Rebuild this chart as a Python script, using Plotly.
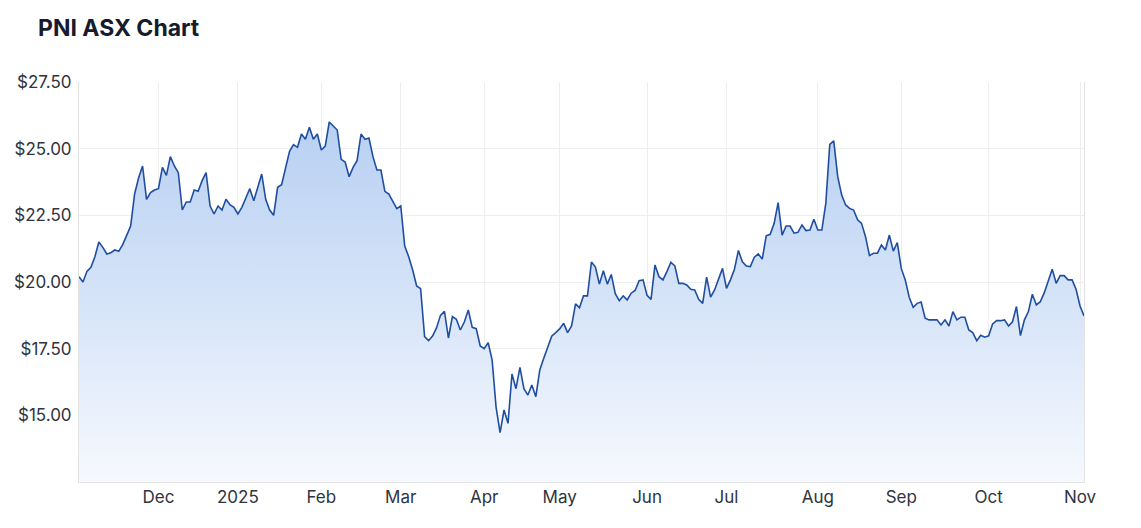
"""PNI ASX one-year price chart."""

import pandas as pd
import plotly.graph_objects as go

# ASX trading holidays inside the window (weekends are skipped separately)
holidays = [
    "2024-12-25", "2024-12-26", "2025-01-01", "2025-01-27",
    "2025-04-18", "2025-04-21", "2025-04-25", "2025-06-09",
]

# daily closes, 4 Nov 2024 .. 4 Nov 2025 (one per trading day)
closes = [
    20.2, 20.0, 20.4, 20.55, 20.95, 21.5, 21.3, 21.05, 21.1, 21.2,
    21.15, 21.4, 21.75, 22.1, 23.3, 23.9, 24.35, 23.1, 23.35, 23.45,
    23.5, 24.3, 24.0, 24.7, 24.35, 24.1, 22.7, 23.0, 23.0, 23.45,
    23.4, 23.8, 24.1, 22.85, 22.55, 22.85, 22.7, 23.1, 22.9, 22.8,
    22.55, 22.8, 23.15, 23.5, 23.05, 23.55, 24.05, 23.1, 22.7, 22.5,
    23.55, 23.65, 24.3, 24.9, 25.15, 25.05, 25.55, 25.35, 25.8, 25.35,
    25.55, 24.95, 25.1, 26.0, 25.85, 25.7, 24.6, 24.5, 23.95, 24.3,
    24.55, 25.55, 25.35, 25.4, 24.7, 24.2, 24.2, 23.4, 23.3, 23.0,
    22.75, 22.85, 21.35, 20.95, 20.45, 19.85, 19.75, 17.95, 17.8, 17.97,
    18.28, 18.75, 18.9, 17.9, 18.7, 18.6, 18.2, 18.5, 18.95, 18.3,
    18.25, 17.6, 17.5, 17.72, 17.08, 15.3, 14.35, 15.2, 14.7, 16.55,
    16.0, 16.8, 16.0, 15.76, 16.14, 15.7, 16.7, 17.14, 17.6, 17.97,
    18.1, 18.24, 18.45, 18.1, 18.35, 19.18, 19.03, 19.48, 19.48, 20.75,
    20.56, 19.92, 20.42, 19.92, 20.28, 19.56, 19.3, 19.48, 19.33, 19.58,
    19.68, 20.05, 20.08, 19.5, 19.35, 20.64, 20.2, 20.08, 20.39, 20.74,
    20.6, 19.95, 19.95, 19.89, 19.73, 19.7, 19.35, 19.2, 20.18, 19.43,
    19.7, 20.08, 20.51, 19.76, 20.08, 20.48, 21.18, 20.76, 20.6, 20.58,
    20.93, 21.05, 20.86, 21.73, 21.79, 22.2, 22.98, 21.76, 22.1, 22.1,
    21.83, 21.86, 22.14, 21.93, 21.95, 22.35, 21.95, 21.95, 22.95, 25.16,
    25.29, 23.95, 23.26, 22.89, 22.76, 22.7, 22.33, 22.2, 21.7, 20.99,
    21.08, 21.08, 21.39, 21.2, 21.76, 21.16, 21.48, 20.51, 20.08, 19.43,
    19.05, 19.2, 19.25, 18.64, 18.58, 18.58, 18.58, 18.39, 18.58, 18.35,
    18.89, 18.58, 18.68, 18.68, 18.2, 18.1, 17.8, 18.0, 17.93, 17.98,
    18.43, 18.55, 18.55, 18.58, 18.35, 18.51, 19.08, 17.99, 18.58, 18.89,
    19.54, 19.14, 19.26, 19.6, 20.08, 20.48, 19.95, 20.24, 20.24, 20.08,
    20.08, 19.73, 19.1, 18.73,
]

month_labels = ["Dec", "2025", "Feb", "Mar", "Apr", "May", "Jun",
                "Jul", "Aug", "Sep", "Oct", "Nov"]
price_ticks = [15.0, 17.5, 20.0, 22.5, 25.0, 27.5]

dates = pd.bdate_range("2024-11-04", "2025-11-04", freq="C", holidays=holidays)
assert len(dates) == len(closes), (len(dates), len(closes))

# tick at the first trading day of every month after the first
firsts = pd.Series(dates).groupby([dates.year, dates.month]).first().tolist()[1:]

FONT = "Inter, Roboto, Arial, sans-serif"
W, H = 1125, 512  # page body keeps its 8px margin

fig = go.Figure(
    go.Scatter(
        x=dates,
        y=closes,
        mode="lines",
        line=dict(color="#1f4ea1", width=1.6),
        fill="tozeroy",
        fillgradient=dict(
            type="vertical",
            start=12.5,
            stop=26.0,
            colorscale=[[0, "#f6f9fe"], [0.5, "#d6e4f8"], [1, "#b8d0f2"]],
        ),
        hoverinfo="skip",
    )
)

fig.update_layout(
    width=W,
    height=H,
    paper_bgcolor="white",
    plot_bgcolor="white",
    showlegend=False,
    margin=dict(l=71, r=49, t=74, b=38),
    font=dict(family=FONT, size=17, color="#2e3440"),
    title=dict(
        text="<b>PNI ASX Chart</b>",
        x=30 / W,
        xanchor="left",
        xref="container",
        y=1 - 20 / H,
        yanchor="middle",
        yref="container",
        font=dict(family=FONT, size=23, color="#161b2e"),
    ),
)

fig.update_xaxes(
    range=[dates[0], dates[-1]],
    rangebreaks=[dict(bounds=["sat", "mon"]), dict(values=holidays)],
    tickmode="array",
    tickvals=firsts,
    ticktext=month_labels,
    automargin=False,
    showgrid=True,
    gridcolor="#eeeeee",
    gridwidth=1,
    showline=True,
    linecolor="#e3e3e3",
    ticks="",
    zeroline=False,
)
fig.update_yaxes(
    range=[12.5, 27.5],
    tickmode="array",
    tickvals=price_ticks,
    tickformat="$.2f",
    ticklabelstandoff=3,
    automargin=False,
    showgrid=True,
    gridcolor="#eeeeee",
    gridwidth=1,
    showline=True,
    linecolor="#e3e3e3",
    mirror=True,
    ticks="",
    zeroline=False,
)

fig.write_html("out.html")
